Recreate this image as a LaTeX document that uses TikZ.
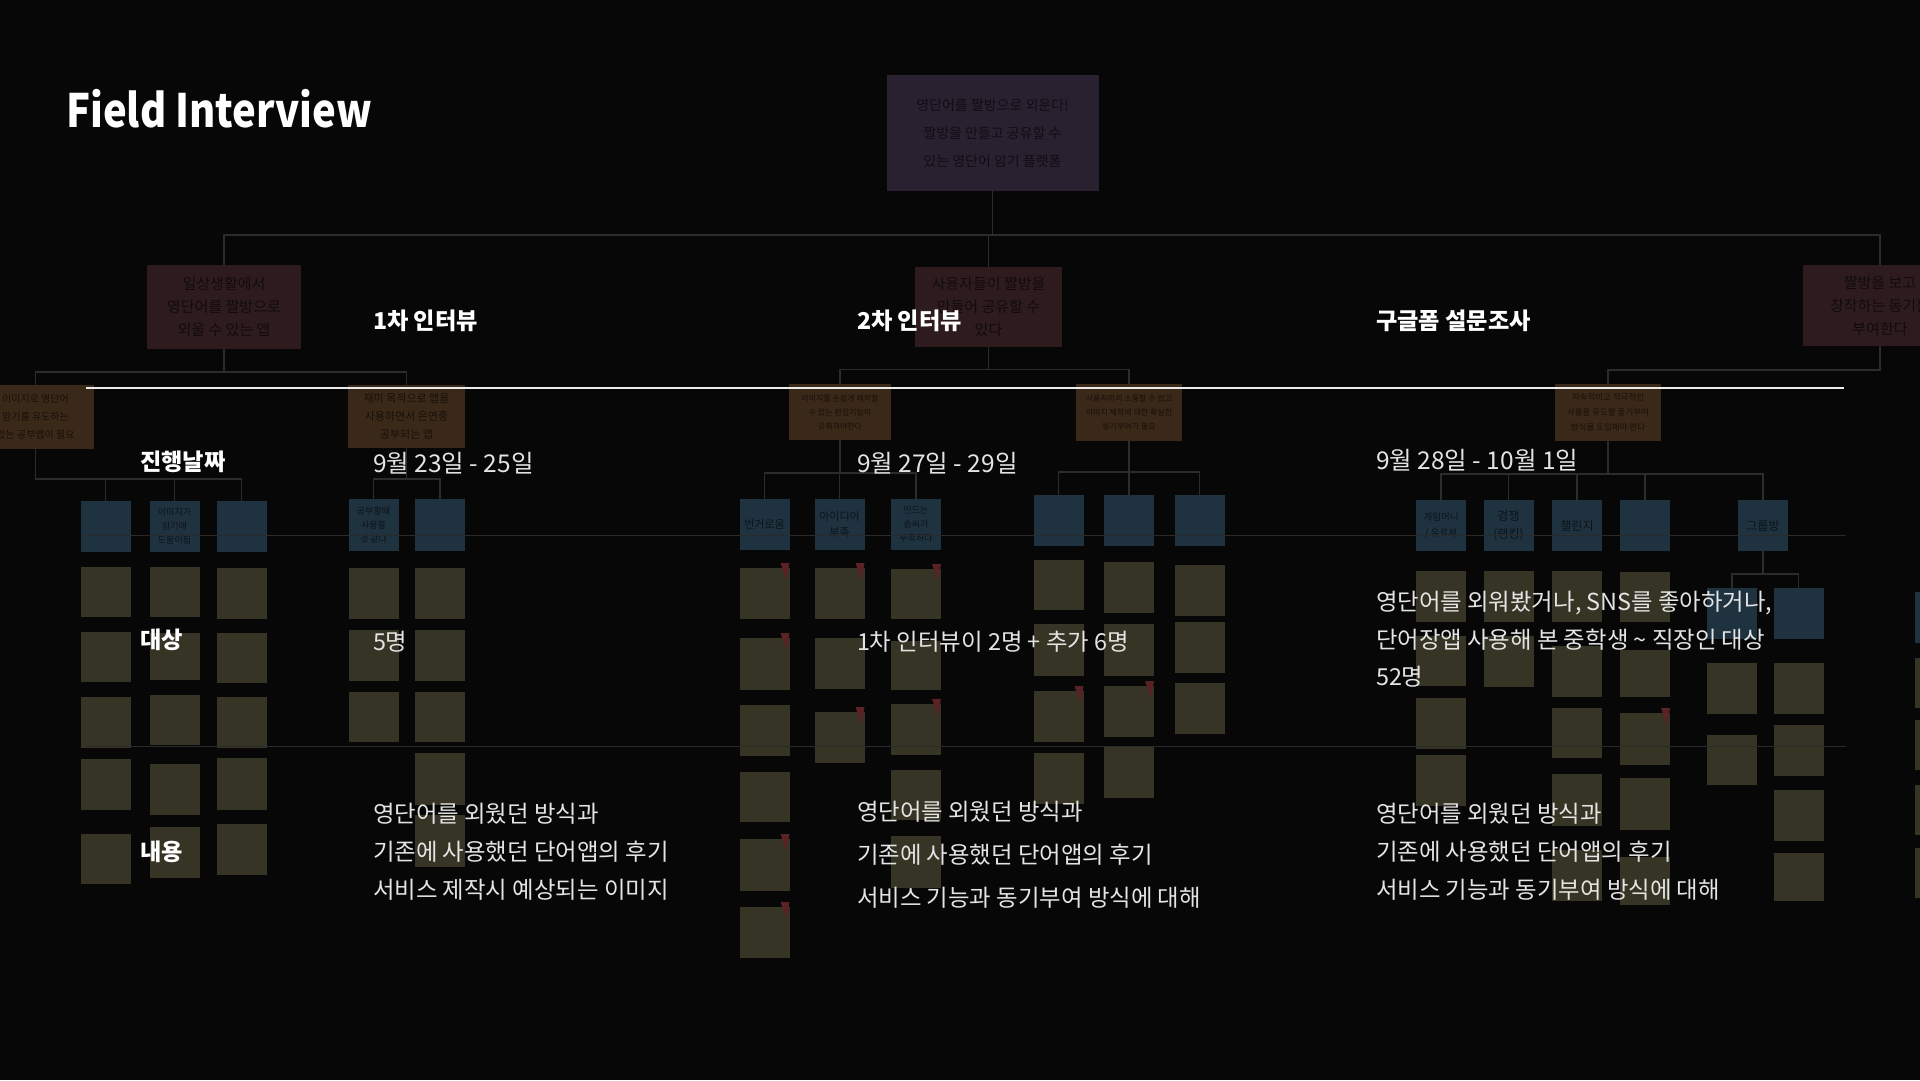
\documentclass[tikz,border=0pt]{standalone}
\usepackage{fontspec}
\setmainfont{Noto Sans CJK KR}
\newfontfamily\ttlfont{Noto Sans CJK KR}[FakeStretch=0.87]
\usetikzlibrary{calc}
\definecolor{bgc}{HTML}{070707}
\definecolor{cpur}{HTML}{2A2130}
\definecolor{cred}{HTML}{2E1B1E}
\definecolor{cora}{HTML}{3A2818}
\definecolor{cblu}{HTML}{1F3240}
\definecolor{cstk}{HTML}{363424}
\definecolor{cconn}{HTML}{2C2C2C}
\definecolor{cfaint}{HTML}{2A2A2A}
\definecolor{cpin}{HTML}{5A2225}
\definecolor{cbody}{HTML}{E4E4E4}
\tikzset{
 box/.style={inner sep=0pt,outer sep=0pt,align=center,anchor=center},
 pbox/.style={box,fill=cpur,text=cpur!40!black,font=\fontsize{14}{28}\selectfont},
 rbox/.style={box,fill=cred,text=cred!40!black,font=\fontsize{15}{23}\selectfont},
 obox/.style={box,fill=cora,text=cora!40!black,font=\fontsize{10}{18}\selectfont},
 bbox/.style={box,fill=cblu,text=cblu!40!black,font=\fontsize{11}{16}\selectfont,minimum width=50pt,minimum height=51pt},
 sticky/.style={box,fill=cstk,minimum width=50pt,anchor=north},
 conn/.style={draw=cconn,line width=1.3pt},
 pin/.style={fill=cpin},
 fg/.style={inner sep=0pt,outer sep=0pt,anchor=base west},
 ttl/.style={fg,text=white,font=\ttlfont\bfseries\fontsize{46}{46}\selectfont},
 hd/.style={fg,text=white,font=\bfseries\fontsize{23.2}{23}\selectfont},
 dt/.style={fg,text=cbody,font=\fontsize{24.5}{24}\selectfont},
 bd/.style={fg,text=cbody,font=\fontsize{23.4}{23}\selectfont},
}
\newcommand\stk[4]{\node[sticky,minimum height={(#4-#3)*1pt}] (#1) at (#2,#3) {};}
\newcommand\pinat[1]{\fill[pin] ($(#1.north east)+(-9,-5)$) -- ++(9,0) -- ++(-3,17) -- cycle;}
\newcommand\branch[3]{\foreach \c in {#3} {\draw[conn] (#1.south) -- ++(0,#2) -| (\c.north);}}
\begin{document}
\begin{tikzpicture}[x=1pt,y=-1pt]
\useasboundingbox (0,0) rectangle (1920,1080);
\fill[bgc] (0,0) rectangle (1920,1080);
\clip (0,0) rectangle (1920,1080);

% ---------- background affinity map ----------
\node[pbox,minimum width=212pt,minimum height=116pt] (P) at (992.5,133) {영단어를 짤방으로 외운다!\\짤방을 만들고 공유할 수\\있는 영단어 암기 플랫폼};

\node[rbox,minimum width=154pt,minimum height=84pt] (R1) at (224,307) {일상생활에서\\영단어를 짤방으로\\외울 수 있는 앱};
\node[rbox,minimum width=147pt,minimum height=80pt] (R2) at (988.5,306.5) {사용자들이 짤방을\\만들어 공유할 수\\있다};
\node[rbox,minimum width=154pt,minimum height=81pt] (R3) at (1880,305.5) {짤방을 보고\\창작하는 동기를\\부여한다};

\node[obox,minimum width=117pt,minimum height=64pt] (O1) at (35.5,417) {이미지로 영단어\\암기를 유도하는\\있는 공부앱이 필요};
\node[obox,minimum width=117pt,minimum height=63pt,font=\fontsize{11}{18}\selectfont] (O2) at (406.5,416.5) {재미 목적으로 앱을\\사용하면서 은연중\\공부되는 앱};
\node[obox,minimum width=102pt,minimum height=56pt,font=\fontsize{8}{14}\selectfont] (O3) at (840,412) {이미지를 손쉽게 제작할\\수 있는 편집기능이\\갖춰져야한다};
\node[obox,minimum width=106pt,minimum height=57pt,font=\fontsize{8}{14}\selectfont] (O4) at (1129,412.5) {사용자끼리 소통할 수 있고\\이미지 제작에 대한 확실한\\동기부여가 필요};
\node[obox,minimum width=106pt,minimum height=57pt,font=\fontsize{8.5}{15}\selectfont] (O5) at (1608,412.5) {지속적이고 적극적인\\사용을 유도할 동기부여\\방식을 도입해야 한다};

% blue cards
\node[bbox] (L1) at (105.5,526.5) {};
\node[bbox,font=\fontsize{9}{14}\selectfont] (L2) at (174.5,526.5) {이미지가\\암기에\\도움이됨};
\node[bbox] (L3) at (241.5,526.5) {};
\node[bbox,minimum height=52pt,font=\fontsize{9}{14}\selectfont] (A1) at (373.5,525) {공부할때\\사용할\\것 같다};
\node[bbox,minimum height=52pt] (A2) at (440,525) {};
\node[bbox] (B1) at (764.5,524.5) {번거로움};
\node[bbox] (B2) at (839.5,524.5) {아이디어\\부족};
\node[bbox,font=\fontsize{9}{14}\selectfont] (B3) at (916,524.5) {만드는\\솜씨가\\부족하다};
\node[bbox] (C1) at (1058.5,520.5) {};
\node[bbox] (C2) at (1129,520.5) {};
\node[bbox] (C3) at (1199.5,520.5) {};
\node[bbox,font=\fontsize{9.5}{16}\selectfont] (D1) at (1441,525.5) {게임머니\\/ 유료제};
\node[bbox,font=\fontsize{12}{18}\selectfont] (D2) at (1508.5,525.5) {경쟁\\(랭킹)};
\node[bbox,font=\fontsize{12}{18}\selectfont] (D3) at (1577,525.5) {챌린지};
\node[bbox] (D4) at (1645,525.5) {};
\node[bbox,font=\fontsize{12}{18}\selectfont] (D5) at (1763,525.5) {그룹방};
\node[bbox] (E1) at (1732,613.5) {};
\node[bbox] (E2) at (1798.5,613.5) {};
\node[bbox] (F0) at (1940,617) {};

% connectors
\branch{P}{44}{R1,R2,R3}
\branch{R1}{23}{O1,O2}
\branch{R2}{23}{O3,O4}
\branch{R3}{24}{O5}
\branch{O1}{30}{L1,L2,L3}
\branch{O2}{31}{A1,A2}
\branch{O3}{33}{B1,B2,B3}
\branch{O4}{31}{C1,C2,C3}
\branch{O5}{33}{D1,D2,D3,D4,D5}
\branch{D5}{23}{E1,E2}

% sticky notes
\stk{l11}{105.5}{567}{617}\stk{l12}{105.5}{632}{682}\stk{l13}{105.5}{697}{748}\stk{l14}{105.5}{759}{810}\stk{l15}{105.5}{834}{884}
\stk{l21}{174.5}{567}{617}\stk{l22}{174.5}{633}{680}\stk{l23}{174.5}{695}{745}\stk{l24}{174.5}{764}{815}\stk{l25}{174.5}{827}{878}
\stk{l31}{241.5}{568}{619}\stk{l32}{241.5}{633}{683}\stk{l33}{241.5}{697}{748}\stk{l34}{241.5}{758}{810}\stk{l35}{241.5}{824}{875}
\stk{a11}{373.5}{568}{619}\stk{a12}{373.5}{630}{681}\stk{a13}{373.5}{692}{742}
\stk{a21}{440}{568}{619}\stk{a22}{440}{630}{681}\stk{a23}{440}{692}{742}\stk{a24}{440}{753}{805}\stk{a25}{440}{815}{867}
\stk{b11}{764.5}{568}{619}\stk{b12}{764.5}{638}{690}\stk{b13}{764.5}{705}{756}\stk{b14}{764.5}{772}{822}\stk{b15}{764.5}{839}{891}\stk{b16}{764.5}{907}{958}
\stk{b21}{839.5}{568}{619}\stk{b22}{839.5}{638}{689}\stk{b23}{839.5}{712}{763}
\stk{b31}{916}{569}{619}\stk{b32}{916}{641}{690}\stk{b33}{916}{704}{755}\stk{b34}{916}{770}{820}\stk{b35}{916}{836}{888}
\stk{c11}{1058.5}{560}{610}\stk{c12}{1058.5}{624}{676}\stk{c13}{1058.5}{691}{742}\stk{c14}{1058.5}{753}{804}
\stk{c21}{1129}{562}{613}\stk{c22}{1129}{624}{676}\stk{c23}{1129}{686}{737}\stk{c24}{1129}{747}{798}
\stk{c31}{1199.5}{565}{616}\stk{c32}{1199.5}{622}{673}\stk{c33}{1199.5}{683}{734}
\stk{d11}{1441}{571}{622}\stk{d12}{1441}{636}{686}\stk{d13}{1441}{698}{749}\stk{d14}{1441}{755}{806}
\stk{d21}{1508.5}{571}{622}\stk{d22}{1508.5}{636}{687}
\stk{d31}{1577}{571}{622}\stk{d32}{1577}{646}{697}\stk{d33}{1577}{708}{758}\stk{d34}{1577}{774}{826}\stk{d35}{1577}{850}{901}
\stk{d41}{1645}{572}{622}\stk{d42}{1645}{650}{697}\stk{d43}{1645}{713}{765}\stk{d44}{1645}{778}{830}\stk{d45}{1645}{857}{905}
\stk{e11}{1732}{663}{714}\stk{e12}{1732}{735}{785}
\stk{e21}{1798.5}{663}{714}\stk{e22}{1798.5}{725}{776}\stk{e23}{1798.5}{790}{841}\stk{e24}{1798.5}{853}{901}
\stk{f1}{1940}{658}{708}\stk{f2}{1940}{720}{770}\stk{f3}{1940}{785}{835}\stk{f4}{1940}{848}{898}

% red pins
\pinat{b11}\pinat{b12}\pinat{b15}\pinat{b16}
\pinat{b21}\pinat{b23}\pinat{b31}\pinat{b33}
\pinat{c13}\pinat{c23}\pinat{d43}

% faint guide lines
\coordinate (gl1) at (86,535);  \coordinate (gr1) at (1846,535);
\coordinate (gl2) at (86,746);  \coordinate (gr2) at (1846,746);
\draw[cfaint,line width=1pt] (gl1) -- (gr1);
\draw[cfaint,line width=1pt] (gl2) -- (gr2);

% ---------- foreground ----------
\coordinate (wl) at (86,388); \coordinate (wr) at (1844,388);
\draw[white!92!black,line width=2.2pt] (wl) -- (wr);

\node[ttl] (title) at (66,127) {Field Interview};

\node[hd] (h1) at (373,329) {1차 인터뷰};
\node[hd] (h2) at (857,329) {2차 인터뷰};
\node[hd] (h3) at (1376,329) {구글폼 설문조사};

\node[hd] (rowdate) at (140,470) {진행날짜};
\node[hd] (rowwho) at (140,648) {대상};
\node[hd] (rowwhat) at (140,860) {내용};

\node[dt] (d1) at (373,472) {9월 23일 - 25일};
\node[dt] (d2) at (857,472) {9월 27일 - 29일};
\node[dt] (d3) at (1376,469) {9월 28일 - 10월 1일};

\node[bd] (w1) at (373,650) {5명};
\node[bd] (w2) at (857,650) {1차 인터뷰이 2명 + 추가 6명};
\node[bd] (w3a) at (1376,610) {영단어를 외워봤거나, SNS를 좋아하거나,};
\node[bd] (w3b) at (1376,648) {단어장앱 사용해 본 중학생 \textasciitilde{} 직장인 대상};
\node[bd] (w3c) at (1376,685) {52명};

\node[bd] (c1a) at (373,822) {영단어를 외웠던 방식과};
\node[bd] (c1b) at (373,860) {기존에 사용했던 단어앱의 후기};
\node[bd] (c1c) at (373,898) {서비스 제작시 예상되는 이미지};
\node[bd] (c2a) at (857,820) {영단어를 외웠던 방식과};
\node[bd] (c2b) at (857,863) {기존에 사용했던 단어앱의 후기};
\node[bd] (c2c) at (857,906) {서비스 기능과 동기부여 방식에 대해};
\node[bd] (c3a) at (1376,822) {영단어를 외웠던 방식과};
\node[bd] (c3b) at (1376,860) {기존에 사용했던 단어앱의 후기};
\node[bd] (c3c) at (1376,898) {서비스 기능과 동기부여 방식에 대해};
\end{tikzpicture}
\end{document}
